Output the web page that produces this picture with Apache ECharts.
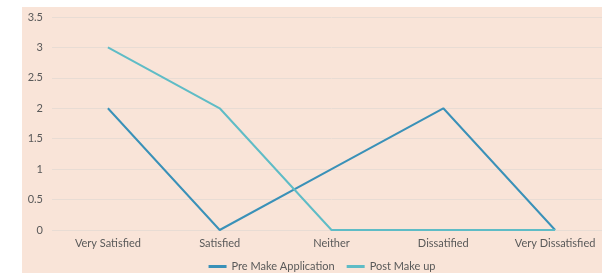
<!DOCTYPE html>
<html><head><meta charset="utf-8">
<script src="https://cdn.jsdelivr.net/npm/echarts@6/dist/echarts.min.js"></script>
<style>html,body{margin:0;padding:0;background:#fff;overflow:hidden;width:602px;height:273px;}#c{position:absolute;left:22px;top:7px;width:600px;height:266px;background:#f9e4d8;}</style>
</head><body><div id="c"></div>
<script>
const categories = ["Very Satisfied", "Satisfied", "Neither", "Dissatified", "Very Dissatisfied"];
const preMake = [2, 0, 1, 2, 0];
const postMake = [3, 2, 0, 0, 0];
const seriesNames = ["Pre Make Application", "Post Make up"];
const chart = echarts.init(document.getElementById('c'), null, {renderer: 'canvas'});
const font = 'Lato, "DejaVu Sans", sans-serif';
chart.setOption({
  animation: false,
  backgroundColor: 'transparent',
  grid: {left: 30, right: 11, top: 10, bottom: 43, containLabel: false},
  legend: {
    top: 249, left: 'center', itemWidth: 18, itemHeight: 3, itemGap: 12,
    icon: 'rect',
    textStyle: {color: '#595959', fontSize: 11, fontFamily: font},
    data: seriesNames
  },
  xAxis: {
    type: 'category', data: categories, boundaryGap: true,
    axisLine: {show: false}, axisTick: {show: false},
    axisLabel: {color: '#595959', fontSize: 11, fontFamily: font, margin: 8}
  },
  yAxis: {
    type: 'value', min: 0, max: 3.5, interval: 0.5,
    axisLine: {show: false}, axisTick: {show: false},
    axisLabel: {color: '#595959', fontSize: 11, fontFamily: font, margin: 9},
    splitLine: {lineStyle: {color: '#e8dcd4', width: 1}}
  },
  series: [
    {name: seriesNames[0], type: 'line', data: preMake, symbol: 'none', lineStyle: {color: '#3a91b8', width: 2}, itemStyle: {color: '#3a91b8'}},
    {name: seriesNames[1], type: 'line', data: postMake, symbol: 'none', lineStyle: {color: '#5fbcc6', width: 2}, itemStyle: {color: '#5fbcc6'}}
  ]
});
</script></body></html>
